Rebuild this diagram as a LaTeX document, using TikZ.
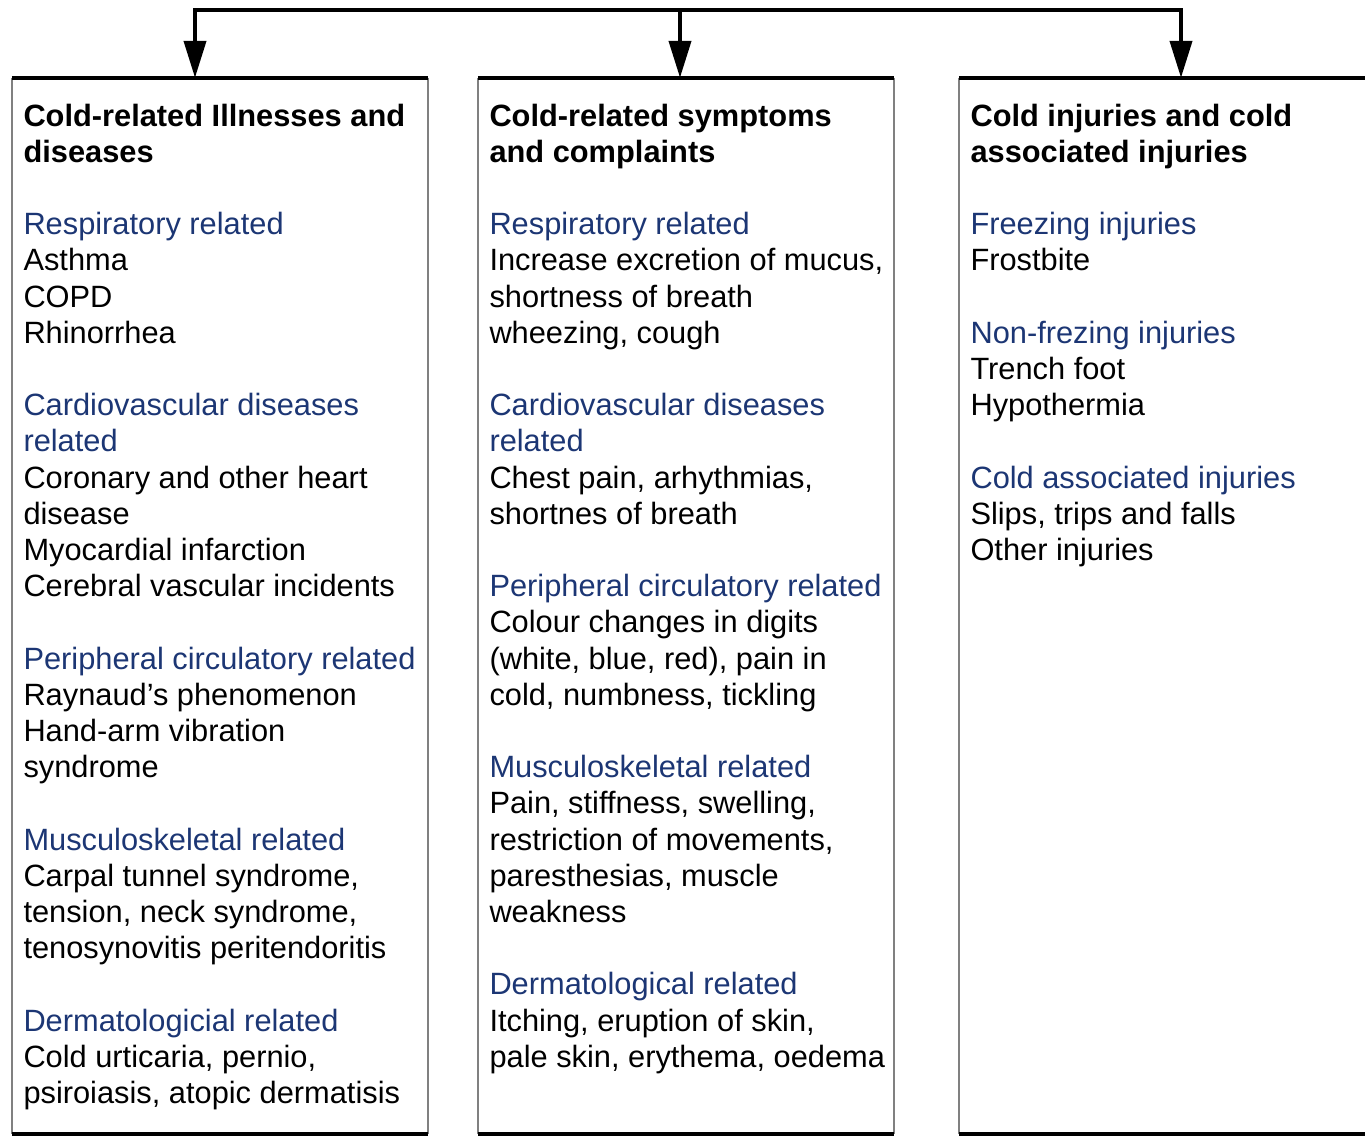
\documentclass[tikz,border=0pt]{standalone}
\usepackage{fontspec}
\setmainfont{Liberation Sans}
\usetikzlibrary{arrows.meta}
\definecolor{headblue}{RGB}{28,54,116}
\definecolor{sidegray}{RGB}{128,128,128}
\newcommand{\cat}[1]{\textcolor{headblue}{#1}}
\newcommand{\gap}{\mbox{}\\}
\begin{document}
\begin{tikzpicture}[x=1pt,y=-1pt,
  frame/.style={inner sep=0pt, minimum width=416pt, minimum height=1056pt},
  listtext/.style={anchor=north west, inner sep=0pt, align=left,
    font=\fontsize{30.8}{36.2}\selectfont},
  rim/.style={line width=4pt, black},
  side/.style={line width=2pt, sidegray},
  link/.style={line width=4pt, black, line join=miter,
    -{Triangle[length=37pt,width=22pt]}}]
\useasboundingbox (0,0) rectangle (1365,1137);

% the three column frames
\node[frame] (b1) at (220,606) {};
\node[frame] (b2) at (686,606) {};
\node[frame] (b3) at (1167,606) {};

\foreach \b in {b1,b2,b3}{
  \draw[side] (\b.north west) -- (\b.south west);
  \draw[side] (\b.north east) -- (\b.south east);
  \draw[rim] (\b.north west) -- (\b.north east);
  \draw[rim] (\b.south west) -- (\b.south east);
}

% column contents
\node[listtext] (t1) at ([xshift=11.5pt,yshift=-22.7pt]b1.north west) {%
\strut\textbf{Cold-related Illnesses and}\\
\textbf{diseases}\\
\gap
\cat{Respiratory related}\\
Asthma\\
COPD\\
Rhinorrhea\\
\gap
\cat{Cardiovascular diseases}\\
\cat{related}\\
Coronary and other heart\\
disease\\
Myocardial infarction\\
Cerebral vascular incidents\\
\gap
\cat{Peripheral circulatory related}\\
Raynaud’s phenomenon\\
Hand-arm vibration\\
syndrome\\
\gap
\cat{Musculoskeletal related}\\
Carpal tunnel syndrome,\\
tension, neck syndrome,\\
tenosynovitis peritendoritis\\
\gap
\cat{Dermatologicial related}\\
Cold urticaria, pernio,\\
psiroiasis, atopic dermatisis};

\node[listtext] (t2) at ([xshift=11.5pt,yshift=-22.7pt]b2.north west) {%
\strut\textbf{Cold-related symptoms}\\
\textbf{and complaints}\\
\gap
\cat{Respiratory related}\\
Increase excretion of mucus,\\
shortness of breath\\
wheezing, cough\\
\gap
\cat{Cardiovascular diseases}\\
\cat{related}\\
Chest pain, arhythmias,\\
shortnes of breath\\
\gap
\cat{Peripheral circulatory related}\\
Colour changes in digits\\
(white, blue, red), pain in\\
cold, numbness, tickling\\
\gap
\cat{Musculoskeletal related}\\
Pain, stiffness, swelling,\\
restriction of movements,\\
paresthesias, muscle\\
weakness\\
\gap
\cat{Dermatological related}\\
Itching, eruption of skin,\\
pale skin, erythema, oedema};

\node[listtext] (t3) at ([xshift=11.5pt,yshift=-22.7pt]b3.north west) {%
\strut\textbf{Cold injuries and cold}\\
\textbf{associated injuries}\\
\gap
\cat{Freezing injuries}\\
Frostbite\\
\gap
\cat{Non-frezing injuries}\\
Trench foot\\
Hypothermia\\
\gap
\cat{Cold associated injuries}\\
Slips, trips and falls\\
Other injuries};

% distribution bar with arrows into each column
\coordinate (hub1) at (195,10);
\coordinate (hub2) at (680,10);
\coordinate (hub3) at (1181,10);
\draw[link] (hub2) -- (hub1) -- (hub1 |- b1.north);
\draw[link] (hub2) -- (hub3) -- (hub3 |- b3.north);
\draw[link] (hub2) -- (hub2 |- b2.north);
\end{tikzpicture}
\end{document}
